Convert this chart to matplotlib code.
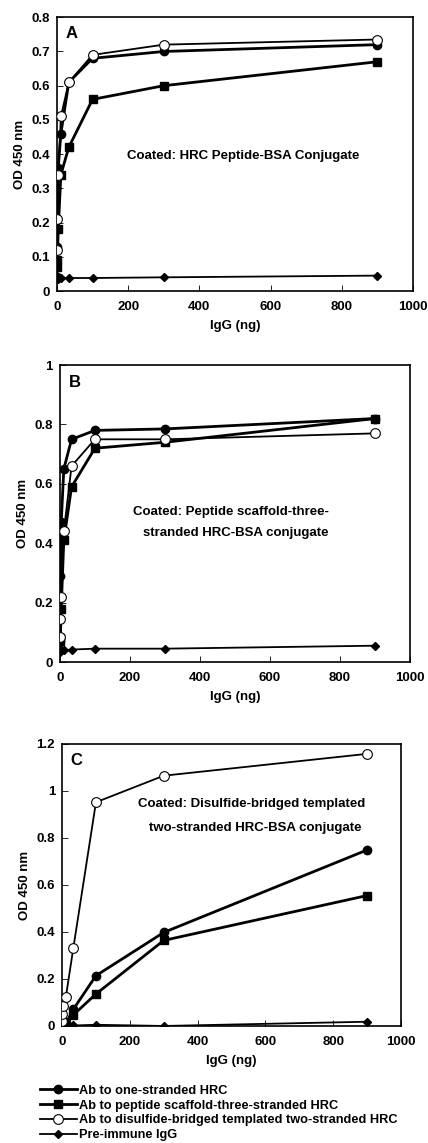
import matplotlib
matplotlib.use("Agg")
import matplotlib.pyplot as plt
from matplotlib.ticker import FixedLocator

plt.rcParams['font.family'] = ['Liberation Sans', 'DejaVu Sans']
plt.rcParams['font.weight'] = 'bold'

# IgG amounts (ng), 3-fold dilution series
igg = [0.4, 1.2, 3.7, 11.1, 33.3, 100, 300, 900]

series_names = ["Ab to one-stranded HRC",
                "Ab to peptide scaffold-three-stranded HRC",
                "Ab to disulfide-bridged templated two-stranded HRC",
                "Pre-immune IgG"]

# Panel A: coated HRC peptide-BSA conjugate
a_one = [0.04, 0.13, 0.36, 0.46, 0.61, 0.68, 0.70, 0.72]
a_three = [0.07, 0.09, 0.18, 0.34, 0.42, 0.56, 0.60, 0.67]
a_two = [0.12, 0.21, 0.34, 0.51, 0.61, 0.69, 0.72, 0.735]
a_pre = [0.042, 0.040, 0.036, 0.037, 0.038, 0.038, 0.040, 0.045]

# Panel B: coated peptide scaffold-three-stranded HRC-BSA conjugate
b_one = [0.04, 0.29, 0.47, 0.65, 0.75, 0.78, 0.785, 0.82]
b_three = [0.07, 0.08, 0.18, 0.41, 0.59, 0.72, 0.74, 0.82]
b_two = [0.085, 0.145, 0.22, 0.44, 0.66, 0.75, 0.75, 0.77]
b_pre = [0.04, 0.035, 0.04, 0.04, 0.042, 0.045, 0.045, 0.055]

# Panel C: coated disulfide-bridged templated two-stranded HRC-BSA conjugate
c_one = [0.0, 0.0, 0.0, 0.01, 0.071, 0.214, 0.398, 0.749]
c_three = [0.0, 0.0, 0.0, 0.005, 0.047, 0.136, 0.364, 0.555]
c_two = [0.02, 0.05, 0.085, 0.122, 0.332, 0.952, 1.065, 1.158]
c_pre = [0.0, 0.0, 0.0, 0.0, 0.002, 0.005, 0.0, 0.018]

panels = [
    dict(letter="A", data=[a_one, a_three, a_two, a_pre], ylim=(0, 0.8),
         yticks=[0, 0.1, 0.2, 0.3, 0.4, 0.5, 0.6, 0.7, 0.8],
         yticklabels=["0", "0.1", "0.2", "0.3", "0.4", "0.5", "0.6", "0.7", "0.8"],
         rect=[0.133, 0.7454, 0.832, 0.2395],
         texts=[(522, 0.395, "Coated: HRC Peptide-BSA Conjugate", 'center')]),
    dict(letter="B", data=[b_one, b_three, b_two, b_pre], ylim=(0, 1.0),
         yticks=[0, 0.2, 0.4, 0.6, 0.8, 1.0],
         yticklabels=["0", "0.2", "0.4", "0.6", "0.8", "1"],
         rect=[0.140, 0.4208, 0.818, 0.2598],
         texts=[(209, 0.505, "Coated: Peptide scaffold-three-", 'left'),
                (237, 0.434, "stranded HRC-BSA conjugate", 'left')]),
    dict(letter="C", data=[c_one, c_three, c_two, c_pre], ylim=(0, 1.2),
         yticks=[0, 0.2, 0.4, 0.6, 0.8, 1.0, 1.2],
         yticklabels=["0", "0.2", "0.4", "0.6", "0.8", "1", "1.2"],
         rect=[0.145, 0.1024, 0.792, 0.2467],
         texts=[(224, 0.945, "Coated: Disulfide-bridged templated", 'left'),
                (257, 0.843, "two-stranded HRC-BSA conjugate", 'left')]),
]

styles = [
    dict(marker='o', markersize=6, markerfacecolor='black', markeredgecolor='black', lw=2.0, zorder=3),
    dict(marker='s', markersize=6, markerfacecolor='black', markeredgecolor='black', lw=2.0, zorder=3),
    dict(marker='o', markersize=7, markerfacecolor='white', markeredgecolor='black',
         markeredgewidth=0.8, lw=1.3, zorder=4),
    dict(marker='D', markersize=4, markerfacecolor='black', markeredgecolor='black', lw=1.3, zorder=3),
]

fig = plt.figure(figsize=(4.28, 11.43), dpi=100)
handles = []
for p in panels:
    ax = fig.add_axes(p['rect'])
    hs = []
    for vals, st in zip(p['data'], styles):
        h, = ax.plot(igg, vals, color='black', **st)
        hs.append(h)
    handles = hs
    ax.set_xlim(0, 1000)
    ax.set_ylim(*p['ylim'])
    ax.xaxis.set_major_locator(FixedLocator([0, 200, 400, 600, 800, 1000]))
    ax.set_xticklabels(["0", "200", "400", "600", "800", "1000"])
    ax.set_yticks(p['yticks'])
    ax.set_yticklabels(p['yticklabels'])
    ax.tick_params(direction='in', length=4, width=0.6, labelsize=9.5)
    ax.tick_params(axis='x', pad=7)
    ax.tick_params(axis='y', pad=5)
    for lab in ax.get_xticklabels() + ax.get_yticklabels():
        lab.set_fontweight('bold')
    for sp in ax.spines.values():
        sp.set_linewidth(1.2)
    ax.set_xlabel("IgG (ng)", fontsize=9.5, fontweight='bold', labelpad=5)
    ax.set_ylabel("OD 450 nm", fontsize=9.5, fontweight='bold', labelpad=4)
    ax.text(0.025, 0.94, p['letter'], transform=ax.transAxes, fontsize=12,
            fontweight='bold', va='center', ha='left')
    for x, y, t, ha in p['texts']:
        ax.text(x, y, t, fontsize=9.5, fontweight='bold', ha=ha, va='center')

fig.legend(handles, series_names, loc='upper left', bbox_to_anchor=(0.093, 0.051),
           frameon=False, handlelength=2.9, handletextpad=0.15,
           labelspacing=0.22, borderpad=0, borderaxespad=0,
           prop={'weight': 'bold', 'size': 9.2})

fig.savefig("out.png", dpi=100)
